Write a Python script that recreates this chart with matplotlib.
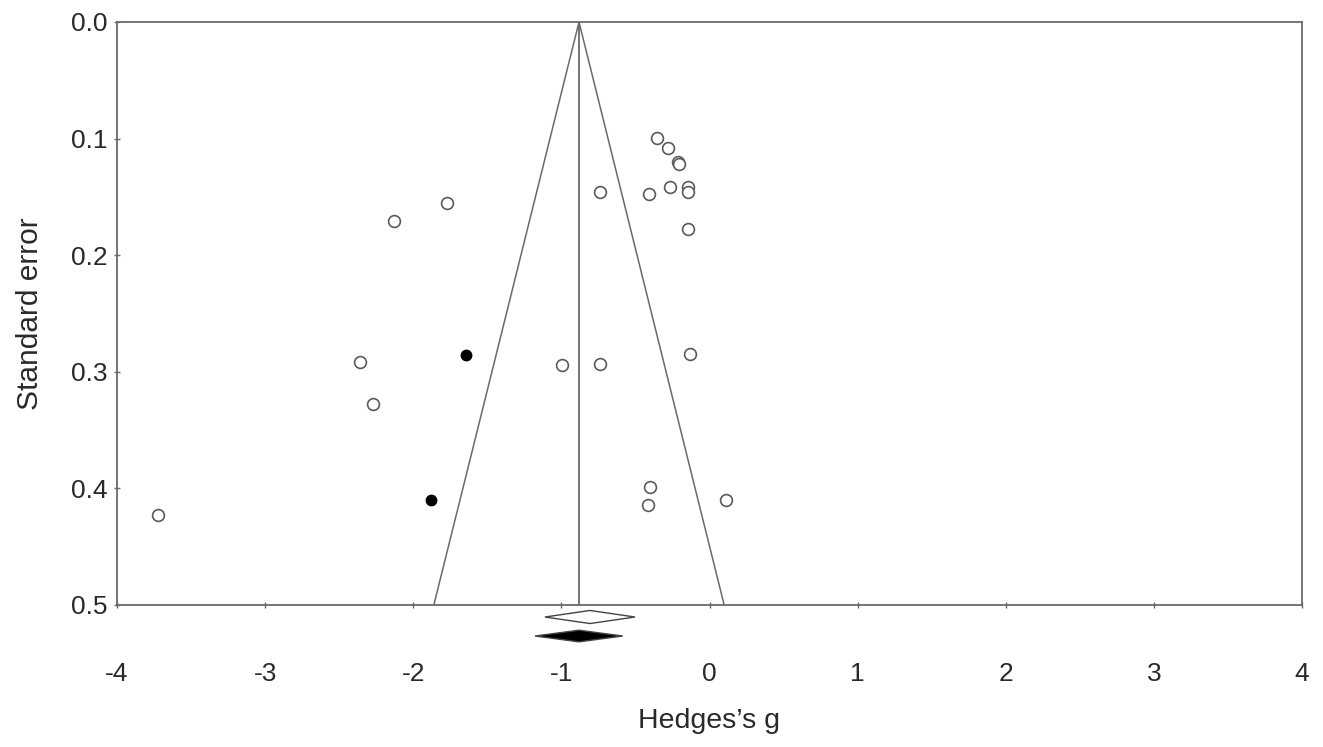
import matplotlib.pyplot as plt

plt.rcParams["font.family"] = ["Liberation Sans", "DejaVu Sans"]
plt.rcParams["axes.unicode_minus"] = False

# observed studies
hedges_g = [-0.354, -0.280, -0.213, -0.206, -0.739, -0.408, -0.267, -0.145,
            -0.145, -0.145, -1.772, -2.130, -2.360, -0.996, -0.739, -0.132,
            -2.272, -0.402, -0.415, 0.111, -3.723]
std_err = [0.0995, 0.108, 0.120, 0.122, 0.146, 0.1475, 0.1415, 0.1415,
           0.146, 0.1775, 0.155, 0.171, 0.2916, 0.294, 0.2933, 0.2847,
           0.3276, 0.399, 0.414, 0.410, 0.4228]

# imputed studies (trim and fill)
imputed_g = [-1.641, -1.880]
imputed_se = [0.2856, 0.410]

# pooled estimates: (point, lower, upper)
observed_est = (-0.807, -1.111, -0.503)
adjusted_est = (-0.881, -1.178, -0.586)

max_se = 0.5
line_col = "#6a6a6a"
text_col = "#2a2a2a"

fig = plt.figure(figsize=(13.23, 7.47), dpi=100)
ax = fig.add_axes([117 / 1323, 1 - 605 / 747, (1302 - 117) / 1323, (605 - 22) / 747])

mean = adjusted_est[0]
ax.plot([mean, mean], [0, max_se], color=line_col, lw=1.3)
ax.plot([mean - 1.96 * max_se, mean, mean + 1.96 * max_se], [max_se, 0, max_se],
        color=line_col, lw=1.1)

ax.plot(hedges_g, std_err, "o", ms=8.5, mfc="white", mec="#5a5a5a", mew=1.2,
        linestyle="none")
ax.plot(imputed_g, imputed_se, "o", ms=7.5, mfc="black", mec="black",
        linestyle="none")


def diamond(est, y, h, face):
    pt, lo, hi = est
    ax.fill([lo, pt, hi, pt], [y, y - h, y, y + h], facecolor=face,
            edgecolor="#444444", lw=1.0, clip_on=False, zorder=5)


diamond(observed_est, 0.5103, 0.0056, "white")
diamond(adjusted_est, 0.5266, 0.0050, "black")

ax.set_xlim(-4, 4)
ax.set_ylim(max_se, 0)
ax.set_xticks(range(-4, 5))
ax.set_yticks([0.0, 0.1, 0.2, 0.3, 0.4, 0.5])
ax.set_yticklabels(["0.0", "0.1", "0.2", "0.3", "0.4", "0.5"])

for s in ax.spines.values():
    s.set_color(line_col)
    s.set_linewidth(1.3)

ax.tick_params(axis="both", direction="inout", length=4, width=1.0,
               colors=line_col, labelcolor=text_col, labelsize=19)
ax.tick_params(axis="x", pad=39)
ax.tick_params(axis="y", pad=5)

ax.set_xlabel("Hedges\u2019s g", fontsize=20.5, color=text_col, labelpad=16)
ax.set_ylabel("Standard error", fontsize=21.5, color=text_col, labelpad=19)

fig.savefig("out.png", dpi=100)
